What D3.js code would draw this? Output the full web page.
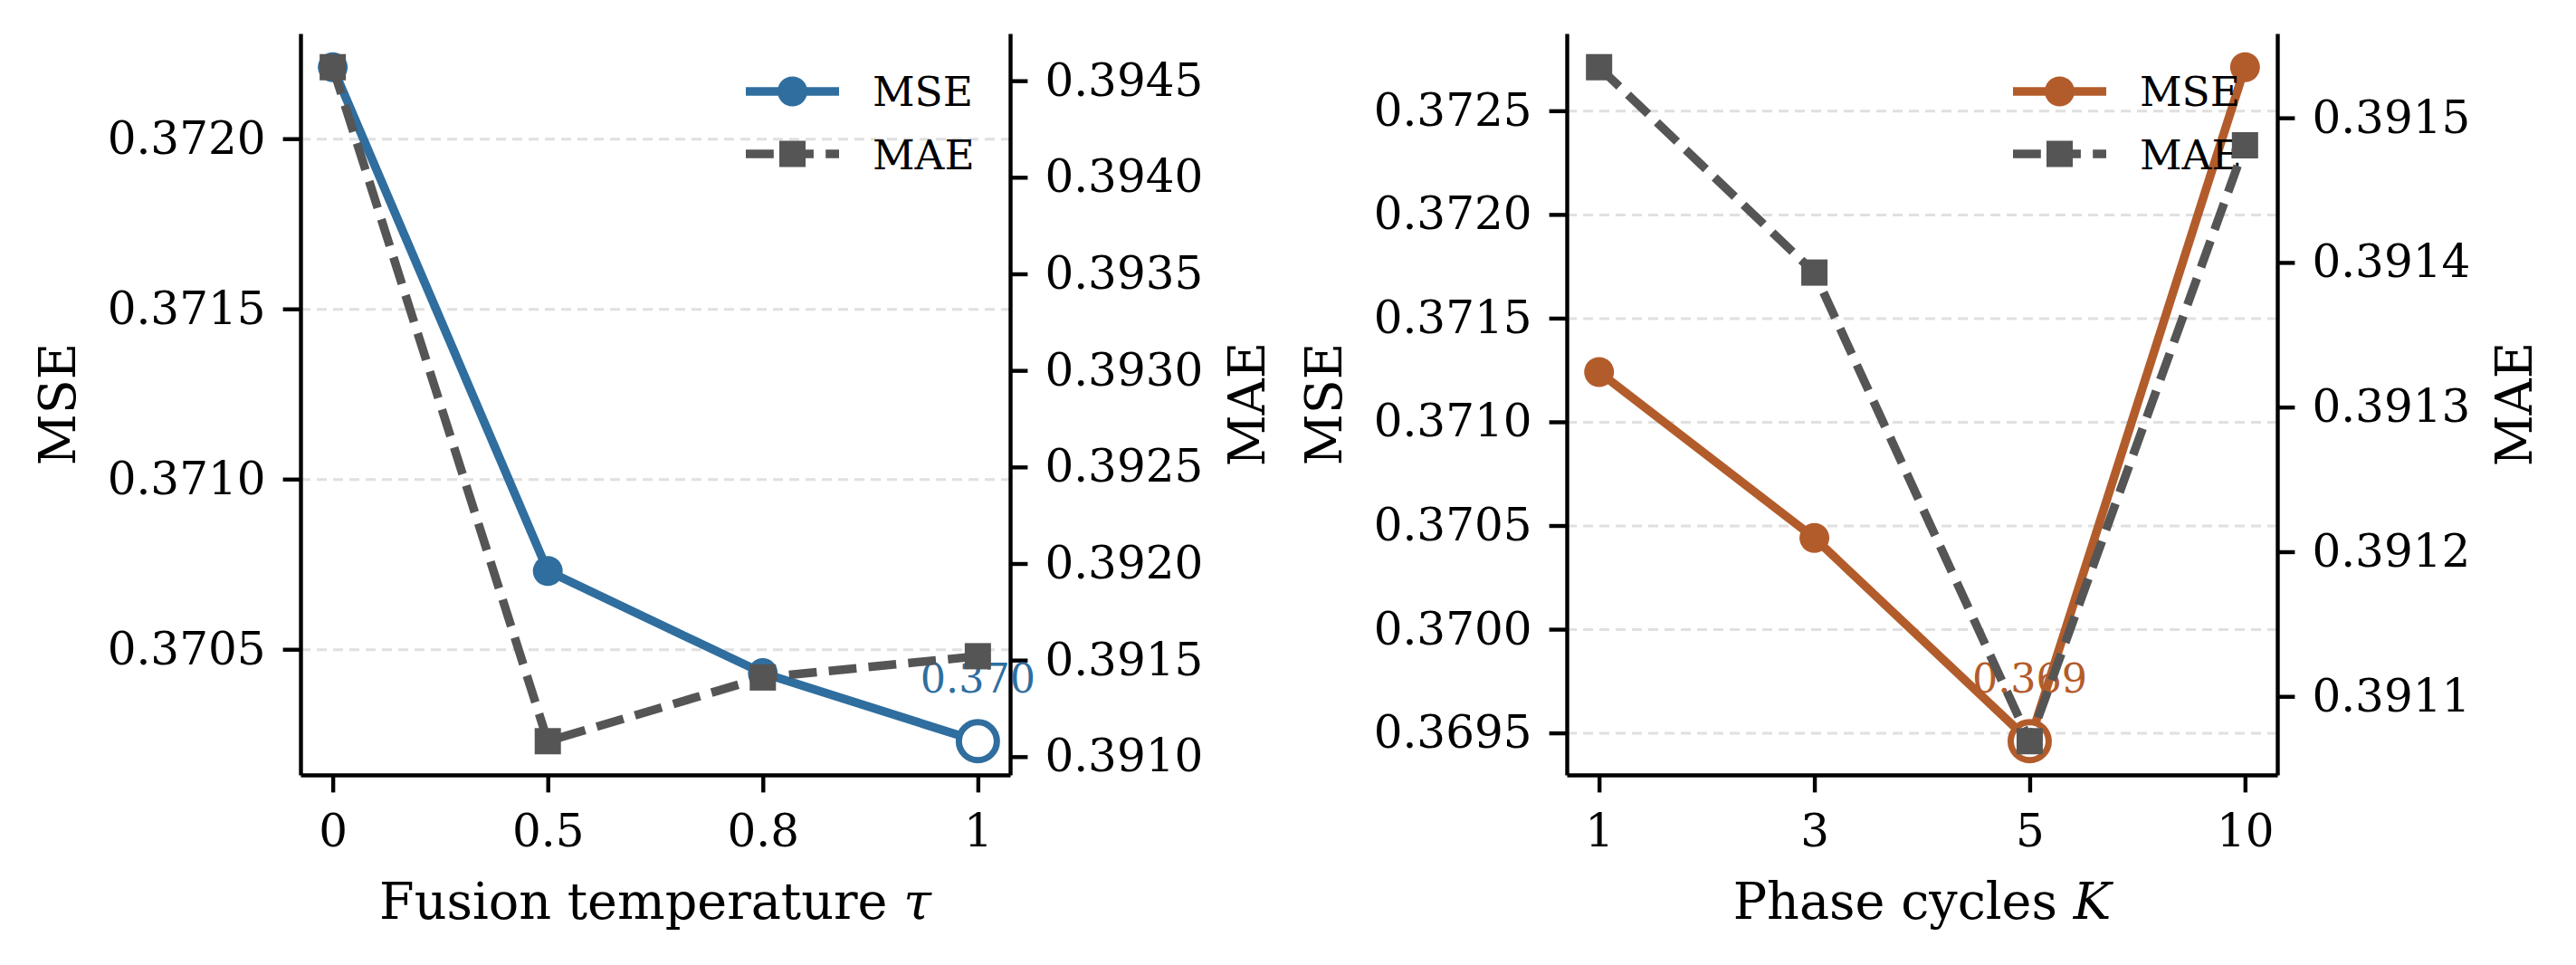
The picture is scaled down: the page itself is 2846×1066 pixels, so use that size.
<!DOCTYPE html>
<html>
<head>
<meta charset="utf-8">
<script src="https://cdn.jsdelivr.net/npm/d3@7"></script>
<style>
  body { margin: 0; background: #fff; }
  svg { display: block; font-family: "DejaVu Serif", serif; }
</style>
</head>
<body>
<svg width="2846" height="1066"></svg>
<script>
// fusion temperature sweep
var tempLabels = ["0", "0.5", "0.8", "1"];
var tempMSE = [0.37221, 0.37073, 0.37043, 0.37023];
var tempMAE = [0.39457, 0.39108, 0.39141, 0.39152];
var tempMSETicks = [0.3705, 0.3710, 0.3715, 0.3720];
var tempMAETicks = [0.3910, 0.3915, 0.3920, 0.3925, 0.3930, 0.3935, 0.3940, 0.3945];

// phase cycle sweep
var cycleLabels = ["1", "3", "5", "10"];
var cycleMSE = [0.37124, 0.37044, 0.36946, 0.37271];
var cycleMAE = [0.391535, 0.391393, 0.391069, 0.391481];
var cycleMSETicks = [0.3695, 0.3700, 0.3705, 0.3710, 0.3715, 0.3720, 0.3725];
var cycleMAETicks = [0.3911, 0.3912, 0.3913, 0.3914, 0.3915];

var svg = d3.select("svg"),
    plotTop = 37,
    plotBottom = 856,
    tickLen = 19.4,
    lw = 9.5,
    grey = "#555555";

var panels = [
  {left: 332, right: 1116, labels: tempLabels, mse: tempMSE, mae: tempMAE,
   mseTicks: tempMSETicks, maeTicks: tempMAETicks, color: "#2f6e9e",
   xTitle: "Fusion temperature ", xVar: "τ"},
  {left: 1731, right: 2516, labels: cycleLabels, mse: cycleMSE, mae: cycleMAE,
   mseTicks: cycleMSETicks, maeTicks: cycleMAETicks, color: "#b35c2b",
   xTitle: "Phase cycles ", xVar: "K"}
];

// matplotlib style 5% margin around the data
function padded(values) {
  var e = d3.extent(values), m = (e[1] - e[0]) * 0.05;
  return [e[0] - m, e[1] + m];
}

function styleAxis(sel) {
  sel.attr("font-size", 50).attr("font-family", "DejaVu Serif");
  sel.select(".domain").attr("stroke-width", 4.4);
  sel.selectAll(".tick line").attr("stroke-width", 4.4);
}

panels.forEach(function(p) {
  var x = d3.scalePoint().domain(p.labels).range([p.left, p.right]).padding(0.15),
      yL = d3.scaleLinear().domain(padded(p.mse)).range([plotBottom, plotTop]),
      yR = d3.scaleLinear().domain(padded(p.mae)).range([plotBottom, plotTop]),
      fmt = d3.format(".4f"),
      g = svg.append("g");

  // dashed horizontal grid from the MSE ticks
  g.append("g")
      .attr("transform", "translate(" + p.left + ",0)")
      .call(d3.axisLeft(yL).tickValues(p.mseTicks).tickSize(-(p.right - p.left)).tickFormat(""))
      .call(function(s) {
        s.select(".domain").remove();
        s.selectAll("line")
            .attr("stroke", "#e0e0e0")
            .attr("stroke-width", 3)
            .attr("stroke-dasharray", "11,7");
      });

  g.append("g")
      .attr("transform", "translate(0," + plotBottom + ")")
      .call(d3.axisBottom(x).tickSize(tickLen).tickSizeOuter(0).tickPadding(24))
      .call(styleAxis);

  g.append("g")
      .attr("transform", "translate(" + p.left + ",0)")
      .call(d3.axisLeft(yL).tickValues(p.mseTicks).tickFormat(fmt).tickSize(tickLen).tickSizeOuter(0).tickPadding(19))
      .call(styleAxis);

  g.append("g")
      .attr("transform", "translate(" + p.right + ",0)")
      .call(d3.axisRight(yR).tickValues(p.maeTicks).tickFormat(fmt).tickSize(tickLen).tickSizeOuter(0).tickPadding(19))
      .call(styleAxis);

  // axis titles
  var midY = (plotTop + plotBottom) / 2;
  g.append("text")
      .attr("transform", "translate(" + (p.left - 249) + "," + midY + ") rotate(-90)")
      .attr("text-anchor", "middle")
      .attr("font-size", 55.6)
      .text("MSE");
  g.append("text")
      .attr("transform", "translate(" + (p.right + 281) + "," + midY + ") rotate(-90)")
      .attr("text-anchor", "middle")
      .attr("font-size", 55.6)
      .text("MAE");
  var xt = g.append("text")
      .attr("x", (p.left + p.right) / 2)
      .attr("y", 1015)
      .attr("text-anchor", "middle")
      .attr("font-size", 55.6);
  xt.append("tspan").text(p.xTitle);
  xt.append("tspan").attr("font-style", "italic").text(p.xVar);

  // MSE series
  var lineL = d3.line()
      .x(function(d, i) { return x(p.labels[i]); })
      .y(function(d) { return yL(d); });

  g.append("path")
      .attr("d", lineL(p.mse))
      .attr("fill", "none")
      .attr("stroke", p.color)
      .attr("stroke-width", lw)
      .attr("stroke-linejoin", "round");

  g.selectAll(".mse-dot")
    .data(p.mse)
    .enter().append("circle")
      .attr("class", "mse-dot")
      .attr("cx", function(d, i) { return x(p.labels[i]); })
      .attr("cy", function(d) { return yL(d); })
      .attr("r", 16.5)
      .attr("fill", p.color);

  // best MSE ring and label
  var best = d3.minIndex(p.mse);
  g.append("circle")
      .attr("cx", x(p.labels[best]))
      .attr("cy", yL(p.mse[best]))
      .attr("r", 21)
      .attr("fill", "#fff")
      .attr("stroke", p.color)
      .attr("stroke-width", 7);

  g.append("text")
      .attr("x", x(p.labels[best]))
      .attr("y", yL(p.mse[best]) - 54)
      .attr("text-anchor", "middle")
      .attr("font-size", 44.4)
      .attr("fill", p.color)
      .text(d3.format(".3f")(p.mse[best]));

  // legend
  var lg = g.append("g").attr("transform", "translate(" + (p.right - 292) + ",0)");
  lg.append("line")
      .attr("x1", 0).attr("x2", 103).attr("y1", 101).attr("y2", 101)
      .attr("stroke", p.color).attr("stroke-width", lw);
  lg.append("circle")
      .attr("cx", 51.5).attr("cy", 101).attr("r", 16.5).attr("fill", p.color);
  lg.append("text")
      .attr("x", 140).attr("y", 117).attr("font-size", 45.5).text("MSE");
  lg.append("line")
      .attr("x1", 0).attr("x2", 103).attr("y1", 170).attr("y2", 170)
      .attr("stroke", grey).attr("stroke-width", lw)
      .attr("stroke-dasharray", "30.8,13.3");
  lg.append("rect")
      .attr("x", 51.5 - 14.5).attr("y", 170 - 14.5).attr("width", 29).attr("height", 29)
      .attr("fill", grey);
  lg.append("text")
      .attr("x", 140).attr("y", 187).attr("font-size", 45.5).text("MAE");

  // MAE series on the twin axis
  var lineR = d3.line()
      .x(function(d, i) { return x(p.labels[i]); })
      .y(function(d) { return yR(d); });

  g.append("path")
      .attr("d", lineR(p.mae))
      .attr("fill", "none")
      .attr("stroke", grey)
      .attr("stroke-width", lw)
      .attr("stroke-dasharray", "30.8,13.3");

  g.selectAll(".mae-dot")
    .data(p.mae)
    .enter().append("rect")
      .attr("class", "mae-dot")
      .attr("x", function(d, i) { return x(p.labels[i]) - 14.5; })
      .attr("y", function(d) { return yR(d) - 14.5; })
      .attr("width", 29)
      .attr("height", 29)
      .attr("fill", grey);
});
</script>
</body>
</html>
